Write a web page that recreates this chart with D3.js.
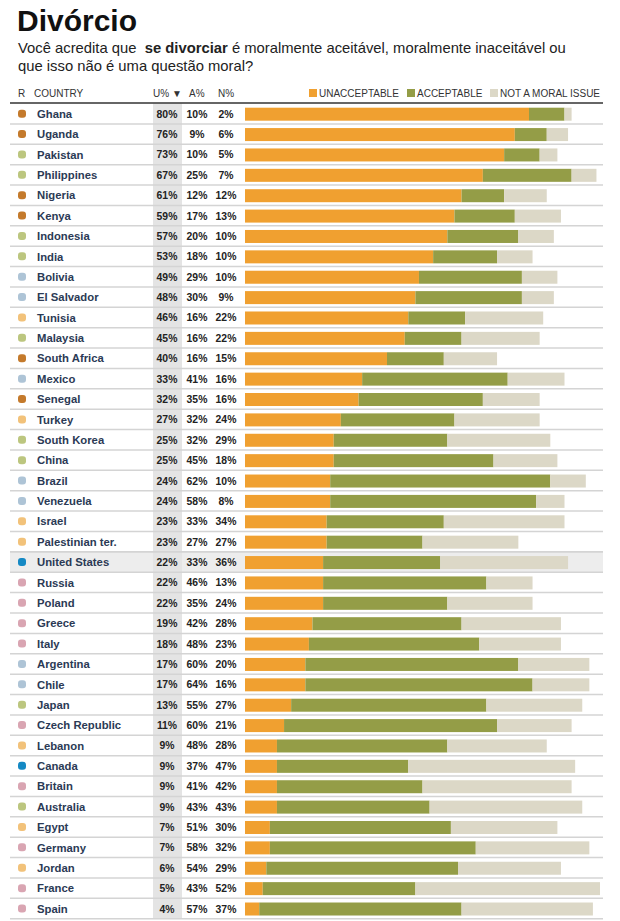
<!DOCTYPE html>
<html><head><meta charset="utf-8">
<script src="https://cdn.jsdelivr.net/npm/d3@7"></script>
<style>body{margin:0;background:#fff;font-family:"Helvetica Neue",Helvetica,Arial,"Liberation Sans",sans-serif;}</style>
</head><body>
<script>
const countries = ["Ghana","Uganda","Pakistan","Philippines","Nigeria","Kenya","Indonesia","India","Bolivia","El Salvador","Tunisia","Malaysia","South Africa","Mexico","Senegal","Turkey","South Korea","China","Brazil","Venezuela","Israel","Palestinian ter.","United States","Russia","Poland","Greece","Italy","Argentina","Chile","Japan","Czech Republic","Lebanon","Canada","Britain","Australia","Egypt","Germany","Jordan","France","Spain"];
const unacceptable = [80,76,73,67,61,59,57,53,49,48,46,45,40,33,32,27,25,25,24,24,23,23,22,22,22,19,18,17,17,13,11,9,9,9,9,7,7,6,5,4];
const acceptable   = [10,9,10,25,12,17,20,18,29,30,16,16,16,41,35,32,32,45,62,58,33,27,33,46,35,42,48,60,64,55,60,48,37,41,43,51,58,54,43,57];
const notMoral     = [2,6,5,7,12,13,10,10,10,9,22,22,15,16,16,24,29,18,10,8,34,27,36,13,24,28,23,20,16,27,21,28,47,42,43,30,32,29,52,37];
const regions = ["Africa","Africa","Asia","Asia","Africa","Africa","Asia","Asia","Latin","Latin","MidEast","Asia","Africa","Latin","Africa","MidEast","Asia","Asia","Latin","Latin","MidEast","MidEast","NA","Europe","Europe","Europe","Europe","Latin","Latin","Asia","Europe","MidEast","NA","Europe","Asia","MidEast","Europe","MidEast","Europe","Europe"];
const regionNames = ["Africa","Asia","Latin","MidEast","Europe","NA"];
const regionColors = ["#c47a2c","#bcc67f","#aec4d6","#f2c27a","#d9a5b2","#1589c4"];
const seriesKeys = ["unacceptable","acceptable","notMoral"];
const seriesLabels = ["UNACCEPTABLE","ACCEPTABLE","NOT A MORAL ISSUE"];
const seriesColors = ["#f0a030","#949d47","#dcd8c7"];
const highlight = "United States";

const W = 620, H = 921;
const svg = d3.select("body").append("svg").attr("width", W).attr("height", H);

const data = countries.map((c,i)=>({country:c, region:regions[i], unacceptable:unacceptable[i], acceptable:acceptable[i], notMoral:notMoral[i]}));

const topY = 103.5, rowH = 20.38;
const y = d3.scaleBand().domain(countries).range([topY, topY + rowH*countries.length]).paddingInner(0);
const x = d3.scaleLinear().domain([0,100]).range([245,600]);
const regionColor = d3.scaleOrdinal().domain(regionNames).range(regionColors);
const color = d3.scaleOrdinal().domain(seriesKeys).range(seriesColors);

// title
svg.append("text").attr("x",17).attr("y",31).attr("font-size",30).attr("font-weight","bold").attr("fill","#111").text("Divórcio");
const sub = svg.append("text").attr("x",18).attr("y",53).attr("font-size",14.8).attr("fill","#222").style("white-space","pre");
sub.append("tspan").text("Você acredita que  ");
sub.append("tspan").attr("font-weight","bold").text("se divorciar");
sub.append("tspan").text(" é moralmente aceitável, moralmente inaceitável ou");
svg.append("text").attr("x",18).attr("y",71).attr("font-size",14.8).attr("fill","#222").text("que isso não é uma questão moral?");

// highlight row background
svg.append("rect").attr("x",10).attr("y",y(highlight)).attr("width",593).attr("height",y.bandwidth()).attr("fill","#ededed");

// U% column shade
svg.append("rect").attr("x",153).attr("y",topY).attr("width",29).attr("height",rowH*countries.length).attr("fill","#e4e4e4");

// header
const hy = 97;
const hdr = svg.append("g").attr("font-size",10).attr("fill","#333");
hdr.append("text").attr("x",18).attr("y",hy).text("R");
hdr.append("text").attr("x",34).attr("y",hy).text("COUNTRY");
hdr.append("text").attr("x",153).attr("y",hy).text("U% ▼");
hdr.append("text").attr("x",189).attr("y",hy).text("A%");
hdr.append("text").attr("x",218).attr("y",hy).text("N%");

// legend
const legX = [309, 407, 490];
seriesKeys.forEach((k,i)=>{
  const g = svg.append("g").attr("transform",`translate(${legX[i]},0)`);
  g.append("rect").attr("x",0).attr("y",hy-8).attr("width",8).attr("height",8).attr("fill",color(k));
  g.append("text").attr("x",10).attr("y",hy).attr("font-size",10).attr("fill","#333").text(seriesLabels[i]);
});

// row separators
svg.append("g").selectAll("line").data(countries).join("line")
  .attr("x1",10).attr("x2",603)
  .attr("y1",d=>y(d)+y.bandwidth()).attr("y2",d=>y(d)+y.bandwidth())
  .attr("stroke","#d4d4d4").attr("stroke-width",1.5);
svg.append("line").attr("x1",10).attr("x2",603).attr("y1",y(highlight)).attr("y2",y(highlight)).attr("stroke","#d4d4d4").attr("stroke-width",1.5);

// header rule
svg.append("line").attr("x1",10).attr("x2",603).attr("y1",topY-0.5).attr("y2",topY-0.5).attr("stroke","#333").attr("stroke-width",1.5);

// stacked bars
const stack = d3.stack().keys(seriesKeys)(data);
const barH = 13;
svg.append("g").selectAll("g").data(stack).join("g").attr("fill",d=>color(d.key))
  .selectAll("rect").data(d=>d).join("rect")
  .attr("x",d=>x(d[0])).attr("width",d=>x(d[1])-x(d[0]))
  .attr("y",d=>y(d.data.country)+(y.bandwidth()-barH)/2+0.5).attr("height",barH);

// rows text
const rows = svg.append("g").selectAll("g").data(data).join("g")
  .attr("transform",d=>`translate(0,${y(d.country)+y.bandwidth()/2})`);
rows.append("rect").attr("x",18).attr("y",-4).attr("width",8).attr("height",8).attr("rx",3).attr("fill",d=>regionColor(d.region));
rows.append("text").attr("x",37).attr("y",4.2).attr("font-size",11.3).attr("font-weight","bold").attr("fill","#2b3a55").text(d=>d.country);
const cols = [["unacceptable",167],["acceptable",197],["notMoral",226]];
cols.forEach(([k,cx])=>{
  rows.append("text").attr("x",cx).attr("y",4).attr("text-anchor","middle").attr("font-size",10.4).attr("font-weight","bold").attr("fill","#222").text(d=>d[k]+"%");
});
</script>
</body></html>
